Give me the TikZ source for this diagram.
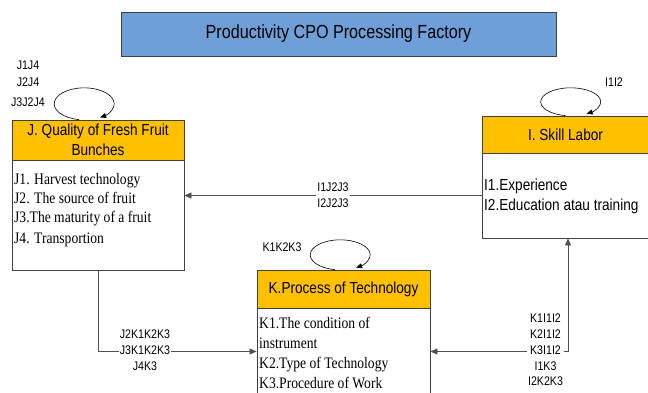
\documentclass[tikz,border=0pt]{standalone}
\usepackage{fontspec}
\newfontfamily\arl{Liberation Sans}[FakeStretch=0.85]
\newfontfamily\tms{Liberation Serif}[FakeStretch=0.85]
\usetikzlibrary{arrows.meta}
\definecolor{titleblue}{HTML}{6F9FD9}
\definecolor{hdrorange}{HTML}{FFC000}
\definecolor{edgecol}{HTML}{404040}
\definecolor{conncol}{HTML}{505050}
\begin{document}
\begin{tikzpicture}[x=1pt,y=-1pt,
  box/.style={draw=edgecol, line width=0.8pt, inner sep=0pt},
  hdr/.style={box, fill=hdrorange, align=center, font=\arl\fontsize{16}{20}\selectfont},
  bodyline/.style={anchor=base west, inner sep=0pt, font=\tms\fontsize{16}{20}\selectfont},
  bodylinesans/.style={anchor=base west, inner sep=0pt, font=\arl\fontsize{16}{20}\selectfont},
  lbl/.style={inner sep=1pt, font=\arl\fontsize{12.5}{15.8}\selectfont, align=center},
  conn/.style={draw=conncol, line width=0.8pt},
  tip/.style={-{Triangle[length=7pt,width=6pt]}},
  twotip/.style={{Triangle[length=7pt,width=6pt]}-{Triangle[length=7pt,width=6pt]}},
  selfloop/.style={draw=black, line width=0.6pt, -{Triangle[length=6pt,width=5pt]}}]
\clip (0,0) rectangle (648,392);

% title
\node[box, fill=titleblue, minimum width=435pt, minimum height=44pt,
      font=\arl\fontsize{19}{23}\selectfont] (title) at (338.5,34) {Productivity CPO Processing Factory};

% J box
\node[box, minimum width=172pt, minimum height=110pt] (Jb) at (98,215) {};
\node[hdr, minimum width=172pt, minimum height=40pt] (Jh) at (98,140) {J. Quality of Fresh Fruit\\Bunches};
\node[bodyline] (J1) at (14,184) {J1. Harvest technology};
\node[bodyline] (J2) at (14,203) {J2. The source of fruit};
\node[bodyline] (J3) at (14,222) {J3.The maturity of a fruit};
\node[bodyline] (J4) at (14,243) {J4. Transportion};

% I box
\node[box, minimum width=167pt, minimum height=85pt] (Ib) at (565.5,195.5) {};
\node[hdr, minimum width=167pt, minimum height=37pt] (Ih) at (565.5,134.5) {I. Skill Labor};
\node[bodylinesans] (I1) at (484,190.5) {I1.Experience};
\node[bodylinesans] (I2) at (484,210.5) {I2.Education atau training};

% K box
\node[box, minimum width=173pt, minimum height=87pt] (Kb) at (343.5,351.5) {};
\node[hdr, minimum width=173pt, minimum height=38pt] (Kh) at (343.5,289) {K.Process of Technology};
\node[bodyline] (K1) at (259,328) {K1.The condition of};
\node[bodyline] (K1b) at (259,348) {instrument};
\node[bodyline] (K2) at (259,368) {K2.Type of Technology};
\node[bodyline] (K3) at (259,388) {K3.Procedure of Work};

% self loops
\draw[selfloop] ([xshift=-19pt]Jh.north) arc[start angle=100, end angle=418, x radius=30, y radius=16];
\draw[selfloop] (Ih.north) arc[start angle=100, end angle=418, x radius=30, y radius=14];
\draw[selfloop] ([xshift=-8.5pt]Kh.north) arc[start angle=100, end angle=418, x radius=30, y radius=15];

% loop labels
\node[lbl] (lj1) at (28,65) {J1J4};
\node[lbl] (lj2) at (28,82) {J2J4};
\node[lbl] (lj3) at (28,102) {J3J2J4};
\node[lbl] (li) at (614,82) {I1I2};
\node[lbl] (lk) at (282,247) {K1K2K3};

% connectors
\draw[conn, tip] (Ib.west) -- (Ib.west -| Jb.east)
  node[lbl, fill=white, midway] (lij) {I1J2J3\\I2J2J3};
\draw[conn, tip] (Jb.south) |- (Kb.west);
\node[lbl, fill=white] (ljk) at (145,350) {J2K1K2K3\\J3K1K2K3\\J4K3};
\draw[conn, twotip] (Kb.east) -| ([xshift=2.5pt]Ib.south);
\node[lbl, fill=white] (lki) at (545.5,350) {K1I1I2\\K2I1I2\\K3I1I2\\I1K3\\I2K2K3};
\end{tikzpicture}
\end{document}
